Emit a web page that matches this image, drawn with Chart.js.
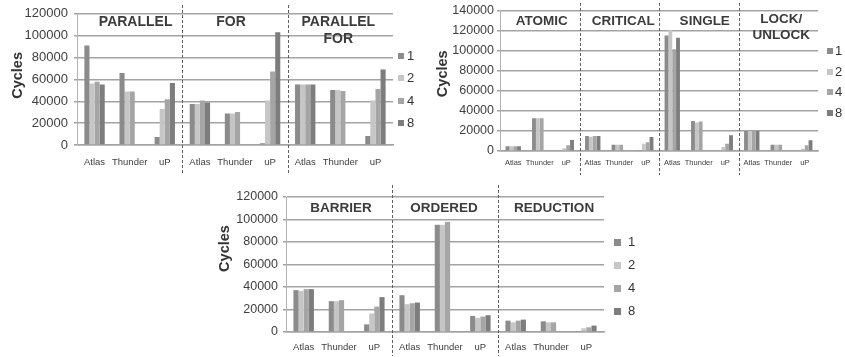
<!DOCTYPE html>
<html lang="en">
<head>
<meta charset="UTF-8">
<title>Overhead cycles</title>
<script src="https://cdn.jsdelivr.net/npm/chart.js@4.4.1/dist/chart.umd.min.js"></script>
<style>
  html, body { margin: 0; padding: 0; background: #fff; }
  body { width: 845px; height: 357px; position: relative; overflow: hidden; }
  .box { position: absolute; }
</style>
</head>
<body>
<div class="box" style="left:0;top:0;width:420px;height:175px"><canvas id="c1"></canvas></div>
<div class="box" style="left:420px;top:0;width:425px;height:175px"><canvas id="c2"></canvas></div>
<div class="box" style="left:200px;top:175px;width:445px;height:182px"><canvas id="c3"></canvas></div>
<script>
// shared
const groups = ['Atlas', 'Thunder', 'uP'];
const threads = ['1', '2', '4', '8'];
const colors = ['#8b8b8b', '#c6c6c6', '#a5a5a5', '#7d7d7d'];

// top left: PARALLEL / FOR / PARALLEL FOR
const sections1 = [['PARALLEL'], ['FOR'], ['PARALLEL', 'FOR']];
const par1 = [91000, 65800, 7400, 37600, 28700, 1500, 55400, 50400, 8300];
const par2 = [56300, 48900, 33000, 37600, 28700, 40600, 55400, 50400, 40600];
const par4 = [57800, 48900, 41800, 40600, 30200, 67300, 55400, 49500, 51300];
const par8 = [55400, null, 56800, 38800, null, 103100, 55400, null, 69000];

// top right: ATOMIC / CRITICAL / SINGLE / LOCK-UNLOCK
const sections2 = [['ATOMIC'], ['CRITICAL'], ['SINGLE'], ['LOCK/', 'UNLOCK']];
const sync1 = [4700, 32700, 700, 15000, 6300, 1000, 115100, 30000, 700, 20000, 6300, 700];
const sync2 = [4700, 32700, 2700, 14300, 6300, 7300, 120300, 28300, 4000, 20000, 6300, 2300];
const sync4 = [4700, 32700, 5700, 15000, 6300, 8700, 101500, 29300, 7300, 20000, 6300, 5700];
const sync8 = [4700, null, 11000, 15000, null, 14000, 112800, null, 15700, 20000, null, 10700];

// bottom: BARRIER / ORDERED / REDUCTION
const sections3 = [['BARRIER'], ['ORDERED'], ['REDUCTION']];
const misc1 = [37200, 27400, 6800, 32700, 95300, 14300, 10100, 9500, 500];
const misc2 = [36600, 27400, 16400, 24700, 95300, 12500, 8600, 8600, 3300];
const misc4 = [38100, 28300, 22600, 25600, 97900, 13700, 10100, 8600, 4200];
const misc8 = [38100, null, 31000, 26200, null, 14900, 11000, null, 5700];

Chart.defaults.font.family = 'Arial, "Liberation Sans", sans-serif';
Chart.defaults.color = '#404040';

const decor = {
  id: 'decor',
  afterDraw(chart, args, o) {
    const ctx = chart.ctx, x = chart.scales.x, area = chart.chartArea;
    const n = chart.data.labels.length / o.sections.length;
    ctx.save();
    // dashed separators between sections
    ctx.strokeStyle = '#5f5f5f';
    ctx.lineWidth = 1;
    ctx.setLineDash([3, 2]);
    for (let k = 1; k < o.sections.length; k++) {
      const px = Math.round((x.getPixelForValue(k * n - 1) + x.getPixelForValue(k * n)) / 2) + 0.5;
      ctx.beginPath();
      ctx.moveTo(px, o.sepTop);
      ctx.lineTo(px, o.sepBottom);
      ctx.stroke();
    }
    ctx.setLineDash([]);
    // section titles
    ctx.fillStyle = '#3c3c3c';
    ctx.font = 'bold ' + o.titleSize + 'px Arial, "Liberation Sans", sans-serif';
    ctx.textAlign = 'center';
    ctx.textBaseline = 'middle';
    o.sections.forEach((lines, k) => {
      const cx = x.getPixelForValue(k * n + (n - 1) / 2) + o.titleDx[k];
      const y0 = lines.length > 1 ? o.titleY2 : o.titleY;
      lines.forEach((t, j) => ctx.fillText(t, cx, y0 + j * o.titleLine));
    });
    // axis title
    ctx.save();
    ctx.translate(o.yTitle.x, (area.top + area.bottom) / 2 + o.yTitle.dy);
    ctx.rotate(-Math.PI / 2);
    ctx.fillStyle = '#333';
    ctx.font = 'bold 14.5px Arial, "Liberation Sans", sans-serif';
    ctx.fillText('Cycles', 0, 0);
    ctx.restore();
    // legend
    ctx.textAlign = 'left';
    ctx.font = o.legend.size + 'px Arial, "Liberation Sans", sans-serif';
    chart.data.datasets.forEach((ds, i) => {
      const cy = o.legend.y + i * o.legend.step;
      ctx.fillStyle = ds.backgroundColor;
      ctx.fillRect(o.legend.x, Math.round(cy - o.legend.box / 2), o.legend.box, o.legend.box);
      ctx.fillStyle = '#333';
      ctx.fillText(ds.label, o.legend.tx, cy + 0.5);
    });
    ctx.restore();
  }
};

function makeChart(id, sections, series, c) {
  const labels = [];
  sections.forEach(() => labels.push(...groups));
  new Chart(document.getElementById(id), {
    type: 'bar',
    data: {
      labels: labels,
      datasets: series.map((d, i) => ({
        label: threads[i],
        data: d,
        backgroundColor: colors[i],
        borderWidth: 0,
        categoryPercentage: 0.58,
        barPercentage: 1
      }))
    },
    options: {
      responsive: true,
      maintainAspectRatio: false,
      animation: false,
      layout: { padding: { top: c.top, right: c.right, left: 0, bottom: 0 } },
      plugins: {
        legend: { display: false },
        tooltip: { enabled: false },
        decor: Object.assign({ sections: sections }, c.decor)
      },
      scales: {
        x: {
          grid: { display: false, drawTicks: false },
          border: { display: true, color: '#a3a3a3', width: 1.5 },
          ticks: { autoSkip: false, maxRotation: 0, minRotation: 0, color: '#404040',
                   font: { size: c.xFont }, padding: c.xPad },
          afterFit: s => { s.height = c.xH; }
        },
        y: {
          min: 0,
          max: c.yMax,
          grid: { color: '#a3a3a3', lineWidth: 1.5, tickLength: 3 },
          border: { display: true, color: '#b3b3b3', width: 1 },
          ticks: { stepSize: 20000, color: '#404040', font: { size: c.yFont }, padding: c.yPad,
                   callback: v => String(v) },
          afterFit: s => { s.width = c.yW; }
        }
      }
    },
    plugins: [decor]
  });
}

makeChart('c1', sections1, [par1, par2, par4, par8], {
  top: 10, right: 27, yW: 77, xH: 30, yMax: 120000, yFont: 13, yPad: 6, xFont: 9.5, xPad: 12,
  decor: {
    sepTop: 5, sepBottom: 174, titleSize: 14, titleY: 22, titleY2: 22, titleLine: 17,
    titleDx: [6, -4, -2], yTitle: { x: 18, dy: -4 },
    legend: { x: 398, tx: 407, y: 56, step: 22.3, box: 6, size: 13 }
  }
});

makeChart('c2', sections2, [sync1, sync2, sync4, sync8], {
  top: 10, right: 27, yW: 80, xH: 24, yMax: 140000, yFont: 12.5, yPad: 3, xFont: 7.5, xPad: 7.5,
  decor: {
    sepTop: 3, sepBottom: 175, titleSize: 13.5, titleY: 21, titleY2: 19.5, titleLine: 16,
    titleDx: [2, 4, 6, 3], yTitle: { x: 23, dy: -7 },
    legend: { x: 407, tx: 415, y: 51, step: 20.7, box: 6, size: 13 }
  }
});

makeChart('c3', sections3, [misc1, misc2, misc4, misc8], {
  top: 22, right: 41, yW: 86, xH: 25, yMax: 120000, yFont: 12.5, yPad: 5, xFont: 9.5, xPad: 10,
  decor: {
    sepTop: 10, sepBottom: 181, titleSize: 13.5, titleY: 33, titleY2: 33, titleLine: 17,
    titleDx: [2, -1, 3], yTitle: { x: 25, dy: -16 },
    legend: { x: 414, tx: 428, y: 67, step: 23, box: 7, size: 13 }
  }
});
</script>
</body>
</html>
